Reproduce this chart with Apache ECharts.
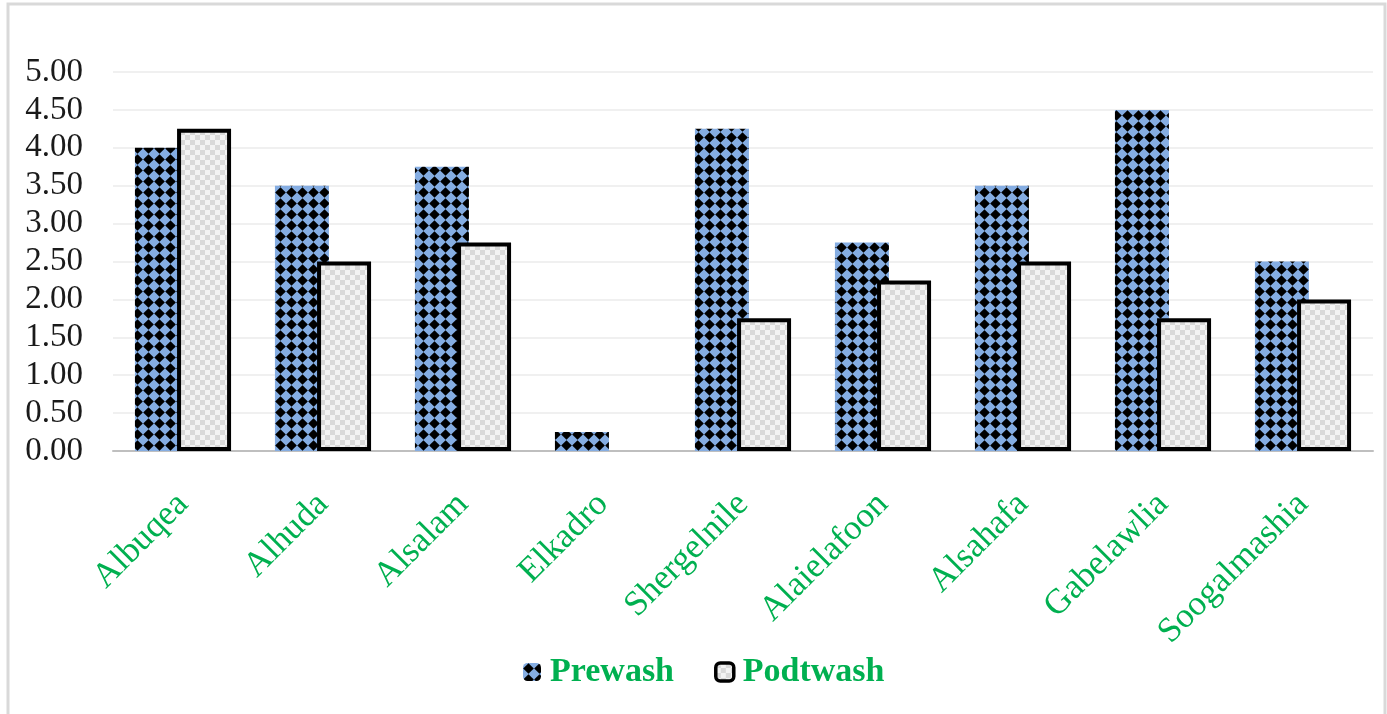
<!DOCTYPE html>
<html>
<head>
<meta charset="utf-8">
<script src="https://cdn.jsdelivr.net/npm/echarts@6/dist/echarts.min.js"></script>
<style>
  html, body { margin: 0; padding: 0; background: #ffffff; }
  #chart { width: 1387px; height: 714px; }
</style>
</head>
<body>
<div id="chart"></div>
<script>
// Sites sampled
var categories = ['Albuqea', 'Alhuda', 'Alsalam', 'Elkadro', 'Shergelnile', 'Alaielafoon', 'Alsahafa', 'Gabelawlia', 'Soogalmashia'];
// Measured values before and after washing
var prewash  = [4.00, 3.50, 3.75, 0.25, 4.25, 2.75, 3.50, 4.50, 2.50];
var podtwash = [4.25, 2.50, 2.75, 0.00, 1.75, 2.25, 2.50, 1.75, 2.00];
var seriesNames = ['Prewash', 'Podtwash'];
// Value axis range
var yMin = 0, yMax = 5, yStep = 0.5;

// Blue fill with a grid of black diamonds
function diamondPattern() {
  var c = document.createElement('canvas');
  var s = 11;
  c.width = s; c.height = s;
  var g = c.getContext('2d');
  g.fillStyle = '#85ade2';
  g.fillRect(0, 0, s, s);
  g.fillStyle = '#000000';
  var h = s / 2, r = 5.3;
  g.beginPath();
  g.moveTo(h, h - r); g.lineTo(h + r, h); g.lineTo(h, h + r); g.lineTo(h - r, h);
  g.closePath();
  g.fill();
  return c;
}

// Light grey checkerboard
function checkerPattern() {
  var c = document.createElement('canvas');
  var q = 5;
  c.width = q * 2; c.height = q * 2;
  var g = c.getContext('2d');
  g.fillStyle = '#f3f3f3';
  g.fillRect(0, 0, q * 2, q * 2);
  g.fillStyle = '#d9d9d9';
  g.fillRect(0, 0, q, q);
  g.fillRect(q, q, q, q);
  return c;
}

var diamondFill = { image: diamondPattern(), repeat: 'repeat' };
var checkerFill = { image: checkerPattern(), repeat: 'repeat' };

var serif = '"Liberation Serif", "Times New Roman", serif';

var chart = echarts.init(document.getElementById('chart'));
chart.setOption({
  backgroundColor: '#ffffff',
  animation: false,
  graphic: [{
    type: 'rect',
    shape: { x: 8, y: 4, width: 1377, height: 740 },
    style: { fill: 'none', stroke: '#d9d9d9', lineWidth: 3 },
    silent: true
  }],
  grid: { left: 113, right: 14, top: 72, bottom: 263, containLabel: false },
  legend: {
    data: [
      { name: seriesNames[0], itemStyle: { borderWidth: 0 } },
      { name: seriesNames[1], itemStyle: { borderWidth: 3.5, borderColor: '#000000' } }
    ],
    bottom: 20,
    left: 518,
    itemWidth: 18,
    itemHeight: 18,
    itemGap: 40,
    textStyle: { color: '#00b050', fontFamily: serif, fontWeight: 'bold', fontSize: 34, padding: [0, 0, 0, 4] }
  },
  xAxis: {
    type: 'category',
    data: categories,
    axisLine: { lineStyle: { color: '#bfbfbf', width: 2 } },
    axisTick: { show: false },
    axisLabel: {
      rotate: 45,
      margin: 48,
      color: '#00b050',
      fontFamily: serif,
      fontSize: 35,
      interval: 0
    }
  },
  yAxis: {
    type: 'value',
    min: yMin,
    max: yMax,
    interval: yStep,
    axisLine: { show: false },
    axisTick: { show: false },
    splitLine: { lineStyle: { color: '#ebebeb', width: 1.5 } },
    axisLabel: {
      margin: 30,
      color: '#1a1a1a',
      fontFamily: serif,
      fontSize: 33,
      formatter: function (v) { return v.toFixed(2); }
    }
  },
  series: [{
    name: seriesNames[0],
    type: 'bar',
    data: prewash,
    barWidth: 54,
    barGap: '-22%',
    itemStyle: { color: diamondFill }
  }, {
    name: seriesNames[1],
    type: 'bar',
    data: podtwash.map(function (v) {
      return v === 0 ? { value: v, itemStyle: { borderWidth: 0 } } : v;
    }),
    barWidth: 54,
    barGap: '-22%',
    itemStyle: { color: checkerFill, borderColor: '#000000', borderWidth: 4 }
  }]
});
</script>
</body>
</html>
